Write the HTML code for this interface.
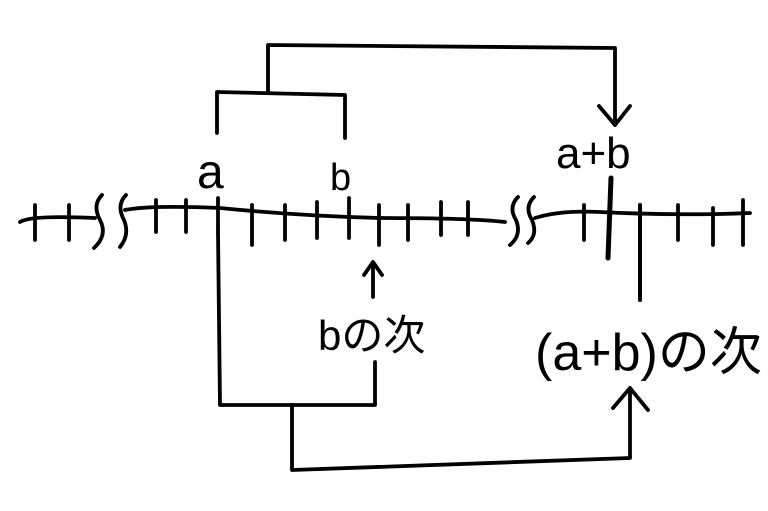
<!DOCTYPE html>
<html><head><meta charset="utf-8"><style>
html,body{margin:0;padding:0;background:#fff;width:768px;height:511px;overflow:hidden}
svg{display:block}
text{font-family:"Liberation Sans","Noto Sans CJK JP",sans-serif;fill:#000}
</style></head><body>
<svg width="768" height="511" viewBox="0 0 768 511" xmlns="http://www.w3.org/2000/svg">
<g fill="none" stroke="#000" stroke-width="3.8" stroke-linecap="round" stroke-linejoin="round">
<path d="M20 222 Q30 215 95 218"/>
<path d="M125 210 Q150 205 220 208 Q300 216 380 218 Q470 218 505 222"/>
<path d="M535 218 Q560 210 600 212 Q680 216 750 213"/>
<path d="M102 195 Q92 205 100 220 Q108 235 94 248"/>
<path d="M126 195 Q116 205 124 220 Q130 235 120 247"/>
<path d="M518 197 Q508 207 516 220 Q522 235 510 245"/>
<path d="M534 197 Q524 207 532 220 Q538 235 528 243"/>
<path d="M35 205 V240 M69 205 V240 M156 200 V232 M186 200 V232 M218 198 V232 M252 205 V245 M285 205 V240 M317 202 V238 M349 198 V238 M379 205 V245 M408 205 V240 M441 202 V235 M468 202 V235 M584 205 V240 M678 205 V240 M713 208 V245 M743 200 V245"/>
<path d="M611 178 L608 258" stroke-width="5"/>
<path d="M640 205 V300" stroke-width="4"/>
<path d="M217 133 V92 L345 95 V138"/>
<path d="M268 92 V45 L615 48 V125"/>
<path d="M599 106 L615 125 L630 106"/>
<path d="M218 232 L220 405 L375 405 V362"/>
<path d="M292 405 V470 L630 458 V388"/>
<path d="M613 408 L630 388 L648 410"/>
<path d="M373 297 V262 M364 275 L373 262 L382 275"/>
</g>
<text x="197" y="188" font-size="48">a</text>
<text x="330" y="190" font-size="38">b</text>
<text x="556" y="168" font-size="44">a+b</text>
<text x="318" y="350" font-size="42">bの次</text>
<text x="535" y="370" font-size="52">(a+b)の次</text>
</svg>
</body></html>
